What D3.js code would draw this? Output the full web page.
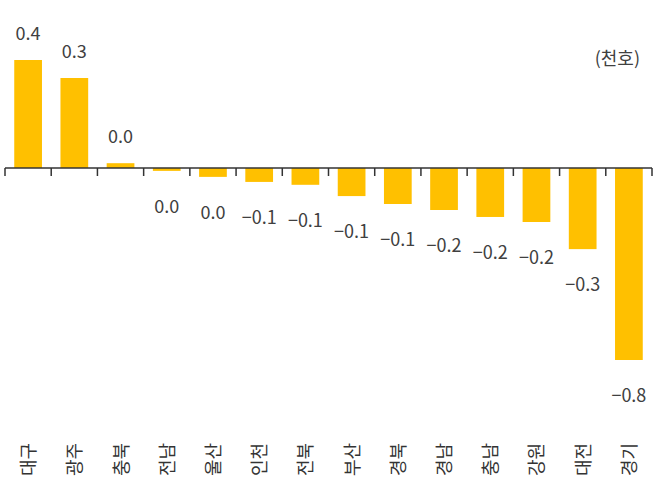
<!DOCTYPE html><html><head><meta charset="utf-8"><script src="https://cdn.jsdelivr.net/npm/d3@7"></script>
<style>body{margin:0;background:#fff}</style></head><body><svg id="c" width="658" height="489"></svg>
<script>
const categories=["대구","광주","충북","전남","울산","인천","전북","부산","경북","경남","충남","강원","대전","경기"];
const values=[0.45,0.375,0.02,-0.012,-0.037,-0.058,-0.07,-0.117,-0.15,-0.175,-0.204,-0.225,-0.338,-0.8];
const labels=["0.4","0.3","0.0","0.0","0.0","-0.1","-0.1","-0.1","-0.1","-0.2","-0.2","-0.2","-0.3","-0.8"];
const unit="(천호)";
const svg=d3.select("#c");
const font="'Noto Sans CJK KR','Noto Sans',sans-serif";
const x=d3.scaleBand().domain(categories).range([5,652]).paddingInner(0.4).paddingOuter(0.2);
const y=d3.scaleLinear().domain([-0.8,0.45]).range([360,60]);
const y0=y(0);
svg.selectAll("rect").data(values).join("rect")
 .attr("x",(d,i)=>x(categories[i])).attr("width",x.bandwidth())
 .attr("y",d=>Math.min(y(d),y0)).attr("height",d=>Math.abs(y(d)-y0)).attr("fill","#FFC000");
svg.append("line").attr("x1",5).attr("x2",652).attr("y1",y0).attr("y2",y0).attr("stroke","#333").attr("stroke-width",1.5);
const step=x.step();
d3.range(15).forEach(i=>{const xx=5+i*(647/14);svg.append("line").attr("x1",xx).attr("x2",xx).attr("y1",y0).attr("y2",y0+8).attr("stroke","#333").attr("stroke-width",1.5);});
svg.selectAll("text.v").data(values).join("text").attr("class","v")
 .attr("x",(d,i)=>x(categories[i])+x.bandwidth()/2)
 .attr("y",d=>d>=0?y(d)-20:y(d)+42)
 .attr("text-anchor","middle").attr("font-family",font).attr("font-size",18).attr("fill","#404040")
 .text((d,i)=>labels[i].replace("-","−"));
svg.selectAll("text.c").data(categories).join("text").attr("class","c")
 .attr("transform",d=>`translate(${x(d)+x.bandwidth()/2+7},476) rotate(-90)`)
 .attr("font-family",font).attr("font-size",18).attr("fill","#333").text(d=>d);
svg.append("text").attr("x",640).attr("y",65).attr("text-anchor","end").attr("font-family",font).attr("font-size",18).attr("fill","#404040").text(unit);
</script></body></html>
